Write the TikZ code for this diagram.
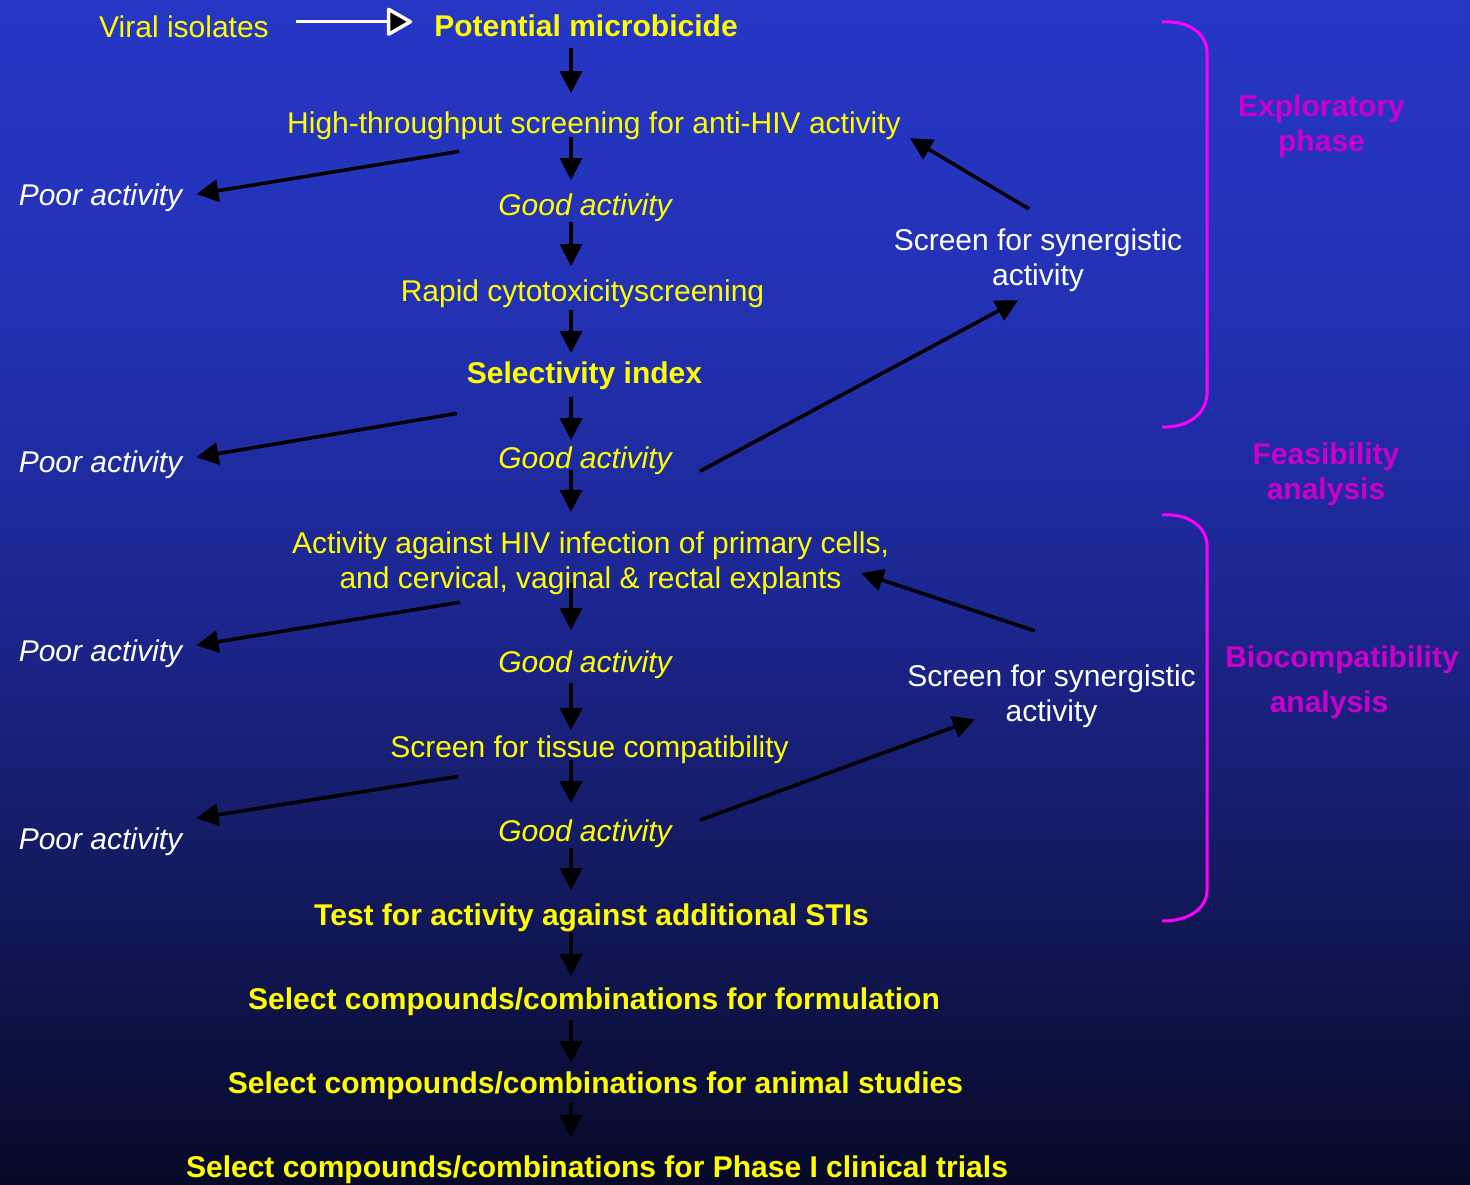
\documentclass[tikz,border=0pt]{standalone}
\usepackage{fontspec}
\setmainfont{Liberation Sans}
\usetikzlibrary{arrows.meta,calc}
\definecolor{ylw}{RGB}{255,255,0}
\definecolor{brc}{RGB}{255,0,255}
\definecolor{magt}{RGB}{204,0,204}
\definecolor{bgA}{RGB}{38,55,198}
\definecolor{bgB}{RGB}{35,49,180}
\definecolor{bgC}{RGB}{28,38,145}
\definecolor{bgD}{RGB}{20,27,100}
\definecolor{bgE}{RGB}{7,9,40}
\pgfdeclareverticalshading{bgshade}{100bp}{color(0bp)=(bgE); color(25bp)=(bgE); color(39.1bp)=(bgD); color(49.66bp)=(bgC); color(62.33bp)=(bgB); color(75bp)=(bgA); color(100bp)=(bgA)}
\tikzset{
  txt/.style={font=\fontsize{30}{35}\selectfont, inner sep=0pt, anchor=base},
  yl/.style={txt, text=ylw},
  ylb/.style={txt, text=ylw, font=\fontsize{30}{35}\selectfont\bfseries},
  yli/.style={txt, text=ylw, font=\fontsize{30}{35}\selectfont\itshape},
  poor/.style={txt, text=white, font=\fontsize{30}{35}\selectfont\itshape},
  syn/.style={text=white, font=\fontsize{30}{35}\selectfont, align=center, inner sep=0pt, anchor=center},
  ylm/.style={text=ylw, font=\fontsize{30}{35}\selectfont, align=center, inner sep=0pt, anchor=center},
  phs/.style={text=magt, font=\fontsize{30}{35}\selectfont\bfseries, align=center, inner sep=0pt, anchor=center},
  arr/.style={draw=black, line width=3.5pt, -{Triangle[length=22pt,width=22pt]}},
  brace/.style={draw=brc, line width=3pt},
}
\begin{document}
\begin{tikzpicture}[x=1pt,y=-1pt]
\useasboundingbox (0,0) rectangle (1470,1184);
\fill[shading=bgshade] (0,0) rectangle (1470,1184);

% main column
\node[yl]  (viral)  at (184,37)    {Viral isolates};
\node[ylb] (pm)     at (586,36)    {Potential microbicide};
\node[yl]  (hts)    at (594,133)   {High-throughput screening for anti-HIV activity};
\node[yli] (good1)  at (585,215)   {Good activity};
\node[yl]  (rapid)  at (582.5,301) {Rapid cytotoxicityscreening};
\node[ylb] (sel)    at (584.5,383) {Selectivity index};
\node[yli] (good2)  at (585,468)   {Good activity};
\node[ylm] (act)    at (590.5,563.6) {Activity against HIV infection of primary cells,\\and cervical, vaginal \& rectal explants};
\node[yli] (good3)  at (585,672)   {Good activity};
\node[yl]  (tissue) at (589.5,757) {Screen for tissue compatibility};
\node[yli] (good4)  at (585,841)   {Good activity};
\node[ylb] (test)   at (591.5,925) {Test for activity against additional STIs};
\node[ylb] (form)   at (594,1009)  {Select compounds/combinations for formulation};
\node[ylb] (animal) at (595.5,1093) {Select compounds/combinations for animal studies};
\node[ylb] (phase)  at (597,1177)  {Select compounds/combinations for Phase I clinical trials};

% left
\node[poor] (poor1) at (100.5,205) {Poor activity};
\node[poor] (poor2) at (100.5,472) {Poor activity};
\node[poor] (poor3) at (100.5,661) {Poor activity};
\node[poor] (poor4) at (100.5,849) {Poor activity};

% right
\node[syn] (syn1) at (1038,260.6)   {Screen for synergistic\\activity};
\node[syn] (syn2) at (1051.5,696.6) {Screen for synergistic\\activity};
\node[phs] (expl) at (1321.5,126.6) {Exploratory\\phase};
\node[phs] (feas) at (1326,474.6)   {Feasibility\\analysis};
\node[phs] (bio)  at (1342,682.6)   {Biocompatibility\\[10pt]analysis\hspace*{26pt}};

% braces
\draw[brace] (1162,22) .. controls (1190,20) and (1207,35) .. (1207,52) -- (1207,393) .. controls (1207,412) and (1190,428) .. (1162,427);
\draw[brace] (1162,515) .. controls (1190,513) and (1207,528) .. (1207,546) -- (1207,890) .. controls (1207,908) and (1190,921) .. (1162,921);

% white arrow
\draw[white, line width=3pt, -{Triangle[length=27pt,width=30pt,fill=black,line width=3.5pt,round]}]
  ($(viral.east)+(27,-4.5)$) -- ($(pm.west)+(-22,-3.5)$);

% vertical arrows
\coordinate (ax) at (571,0);
\foreach \a/\b/\s/\e in {pm/hts/12/18, hts/good1/-2/13, good1/rapid/1/13, rapid/sel/3/8,
  sel/good2/8/6, good2/act/-4/20, act/good3/-12/20, good3/tissue/5/5, tissue/good4/-3/16,
  good4/test/1/13, test/form/1/11, form/animal/5/8, animal/phase/4/18}
  \draw[arr, shorten <=\s pt, shorten >=\e pt] (\a.south -| ax) -- (\b.north -| ax);

% to poor activity
\draw[arr] ($(hts.south west)+(172,12)$) -- ($(poor1.east)+(14,-3)$);
\draw[arr] ($(sel.south west)+(-10,24)$) -- ($(poor2.east)+(14,-7)$);
\draw[arr] ($(act.south west)+(168,7)$) -- ($(poor3.east)+(14,-8)$);
\draw[arr] ($(tissue.south west)+(68,13)$) -- ($(poor4.east)+(14,-23)$);

% synergy
\draw[arr] ($(syn1.north)+(-9,-20)$) -- ($(hts.east)+(9,13)$);
\draw[arr] ($(good2.east)+(28,11)$) -- ($(syn1.south)+(-20,8)$);
\draw[arr] ($(syn2.north)+(-16.5,-34)$) -- ($(act.east)+(-28,9.4)$);
\draw[arr] ($(good4.east)+(28,-13)$) -- ($(syn2.south)+(-76.5,-9)$);
\end{tikzpicture}
\end{document}
